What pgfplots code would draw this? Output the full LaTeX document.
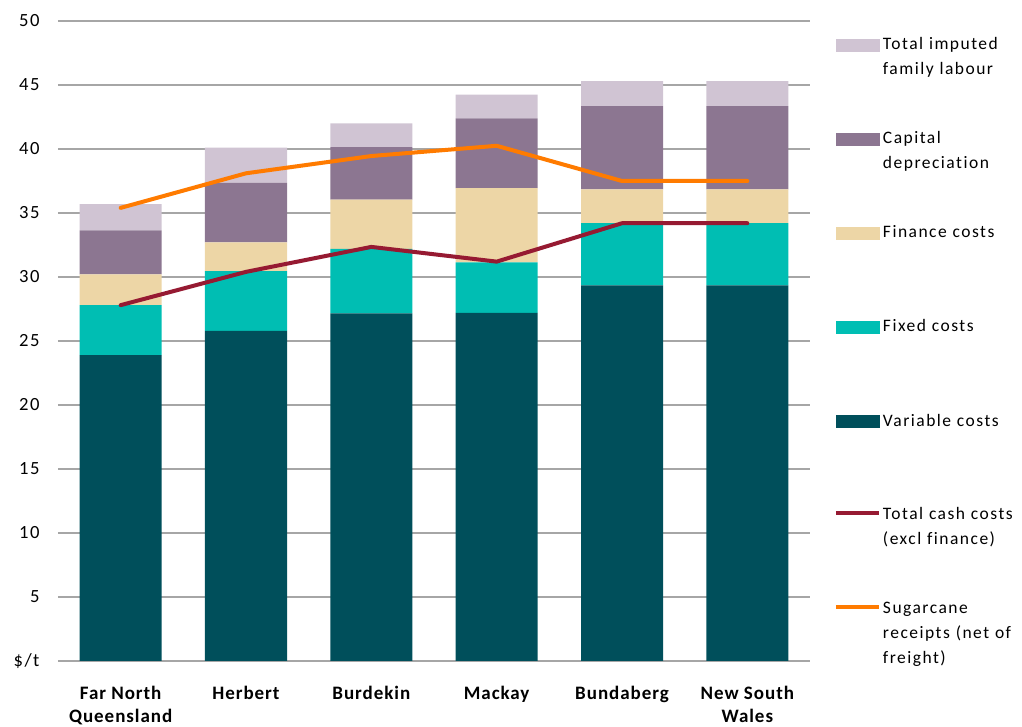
\documentclass[border=0pt]{standalone}
\usepackage{fontspec}
\setmainfont{Carlito}[Ligatures=NoCommon]
\newfontfamily\legfont{Carlito}[LetterSpace=8.5, Ligatures=NoCommon]
\newfontfamily\catfont{Carlito}[LetterSpace=5, Ligatures=NoCommon]
\newfontfamily\tickfont{Carlito}[LetterSpace=8, Ligatures=NoCommon]
\usepackage{pgfplots}
\pgfplotsset{compat=1.18}
\definecolor{cVar}{RGB}{0,79,91}
\definecolor{cFix}{RGB}{0,190,179}
\definecolor{cFin}{RGB}{237,214,166}
\definecolor{cCap}{RGB}{140,118,145}
\definecolor{cLab}{RGB}{208,196,211}
\definecolor{cCash}{RGB}{150,26,50}
\definecolor{cSug}{RGB}{255,123,0}
\definecolor{cGrid}{RGB}{166,166,166}
\pgfplotsset{
  sw/.style={legend image code/.code={\fill[#1] (0pt,-1pt) rectangle (43pt,11pt);}},
  ln/.style={legend image code/.code={\draw[#1,line width=4pt] (0pt,6.5pt) -- (43pt,6.5pt);}},
  basestyle/.style={scale only axis, width=752pt, height=640pt,
    xmin=-0.5, xmax=5.5, ymin=0, ymax=50, anchor=south west, at={(0pt,0pt)}},
}
\begin{document}
\begin{tikzpicture}
\begin{axis}[basestyle, ybar stacked, bar width=82pt,
  axis line style={draw=none},
  tick style={draw=none},
  ymajorgrids, grid style={cGrid, line width=1.2pt},
  ytick={0,5,...,50},
  yticklabels={\$/t,5,10,15,20,25,30,35,40,45,50},
  yticklabel style={font=\tickfont\fontsize{18.6}{22}\selectfont, xshift=-15pt},
  xtick={0,1,2,3,4,5},
  xticklabels={{Far North\\Queensland},Herbert,Burdekin,Mackay,Bundaberg,{New South\\Wales}},
  xticklabel style={font=\catfont\bfseries\fontsize{19}{23}\selectfont, align=center, yshift=-22pt},
  legend style={at={(axis description cs:1.03191,0.97344)}, anchor=north west,
    draw=none, fill=none, inner sep=0pt, outer sep=0pt,
    row sep=0pt, column sep=2pt,
    cells={anchor=base west},
    nodes={inner sep=0pt, text width=145pt, align=left, text height=12pt, text depth=82pt,
      font=\legfont\fontsize{17.5}{24.5}\selectfont}},
]
\addlegendimage{sw=cLab}\addlegendentry{Total imputed\\family labour}
\addlegendimage{sw=cCap}\addlegendentry{Capital\\depreciation}
\addlegendimage{sw=cFin}\addlegendentry{Finance costs}
\addlegendimage{sw=cFix}\addlegendentry{Fixed costs}
\addlegendimage{sw=cVar}\addlegendentry{Variable costs}
\addlegendimage{ln=cCash}\addlegendentry{Total cash costs\\(excl finance)}
\addlegendimage{ln=cSug}\addlegendentry{Sugarcane\\receipts (net of\\freight)}
% Variable costs
\addplot[fill=cVar, draw=none, forget plot] coordinates {(0,23.9) (1,25.8) (2,27.15) (3,27.2) (4,29.35) (5,29.35)};
% Fixed costs
\addplot[fill=cFix, draw=none, forget plot] coordinates {(0,3.9) (1,4.65) (2,5.05) (3,3.95) (4,4.85) (5,4.85)};
% Finance costs
\addplot[fill=cFin, draw=none, forget plot] coordinates {(0,2.4) (1,2.25) (2,3.85) (3,5.8) (4,2.65) (5,2.65)};
% Capital depreciation
\addplot[fill=cCap, draw=none, forget plot] coordinates {(0,3.45) (1,4.65) (2,4.1) (3,5.45) (4,6.5) (5,6.5)};
% Total imputed family labour
\addplot[fill=cLab, draw=none, forget plot] coordinates {(0,2.05) (1,2.75) (2,1.85) (3,1.85) (4,1.95) (5,1.95)};
\end{axis}
\begin{axis}[basestyle, hide axis]
\addplot[cCash, line width=4pt, line cap=round, line join=round, mark=none] coordinates {(0,27.8) (1,30.4) (2,32.35) (3,31.2) (4,34.2) (5,34.2)};
\addplot[cSug, line width=4pt, line cap=round, line join=round, mark=none] coordinates {(0,35.4) (1,38.1) (2,39.45) (3,40.25) (4,37.5) (5,37.5)};
\end{axis}
\pgfresetboundingbox
\path[use as bounding box] (-58pt,-66pt) rectangle (964pt,661pt);
\end{tikzpicture}
\end{document}
